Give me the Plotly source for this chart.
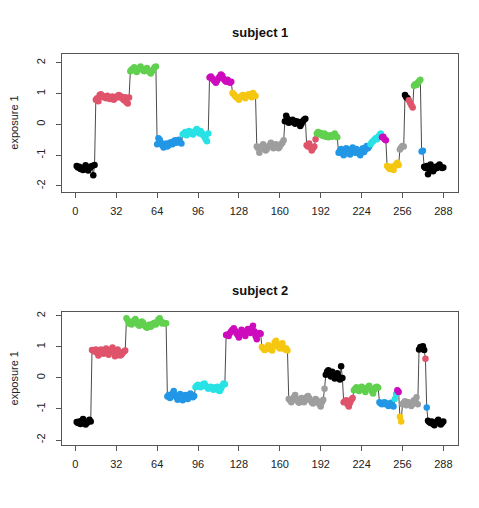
import plotly.graph_objects as go

# R default palette
palette = {
    "black": "#000000", "red": "#DF536B", "green": "#61D04F", "blue": "#2297E6",
    "cyan": "#28E2E5", "magenta": "#CD0BBC", "yellow": "#F5C710", "gray": "#9E9E9E",
}

x_ticks = [0, 32, 64, 96, 128, 160, 192, 224, 256, 288]
y_ticks = [-2, -1, 0, 1, 2]
y_tick_labels = ["-2", "-1", "0", "1", "2"]

# ---------------- subject 1 ----------------
s1_seg_colors = ["black", "red", "green", "blue", "cyan", "magenta", "yellow", "gray",
                 "black", "red", "green", "blue", "cyan", "magenta", "yellow", "gray",
                 "black", "red", "green", "blue", "black"]
s1_seg_values = [
    [-1.35, -1.40, -1.38, -1.45, -1.42, -1.48, -1.40, -1.33, -1.45, -1.50, -1.42, -1.38, -1.35, -1.65, -1.32],
    [0.80, 0.85, 0.75, 0.95, 0.98, 0.92, 0.88, 0.90, 0.85, 0.93, 0.88, 0.82, 0.86, 0.90, 0.80, 0.85, 0.88,
     0.92, 0.95, 0.87, 0.90, 0.83, 0.78, 0.88, 0.72, 0.68, 0.87],
    [1.72, 1.78, 1.80, 1.85, 1.75, 1.70, 1.78, 1.82, 1.88, 1.80, 1.75, 1.72, 1.78, 1.83, 1.76, 1.70, 1.65,
     1.72, 1.78, 1.85, 1.88],
    [-0.65, -0.45, -0.50, -0.60, -0.68, -0.75, -0.70, -0.62, -0.72, -0.68, -0.60, -0.58, -0.65, -0.55, -0.52,
     -0.60, -0.55, -0.50, -0.58, -0.62],
    [-0.32, -0.30, -0.25, -0.35, -0.28, -0.22, -0.30, -0.27, -0.33, -0.25, -0.20, -0.15, -0.25, -0.30, -0.22,
     -0.28, -0.35, -0.40, -0.48, -0.55, -0.30],
    [1.52, 1.55, 1.50, 1.45, 1.40, 1.35, 1.42, 1.50, 1.55, 1.62, 1.58, 1.48, 1.42, 1.38, 1.45, 1.40, 1.35, 1.38],
    [1.02, 0.98, 0.92, 0.88, 0.85, 0.80, 0.88, 0.92, 0.95, 0.90, 0.85, 0.92, 0.96, 0.98, 0.92, 0.88, 1.02,
     0.95, 0.92],
    [-0.72, -0.78, -0.92, -0.80, -0.70, -0.65, -0.75, -0.85, -0.80, -0.72, -0.68, -0.60, -0.70, -0.78, -0.72,
     -0.65, -0.70, -0.78, -0.72, -0.65, -0.60, -0.52],
    [0.10, 0.28, 0.18, 0.05, 0.12, 0.08, 0.15, 0.10, 0.02, 0.10, 0.05, 0.08, -0.05, 0.02, 0.10, 0.15, 0.18],
    [-0.68, -0.72, -0.62, -0.75, -0.85, -0.78, -0.72, -0.48],
    [-0.30, -0.25, -0.32, -0.28, -0.35, -0.38, -0.30, -0.40, -0.35, -0.42, -0.38, -0.35, -0.40, -0.35, -0.30,
     -0.38, -0.42],
    [-0.92, -0.85, -0.80, -0.95, -1.00, -0.88, -0.78, -0.85, -0.95, -0.98, -0.82, -0.75, -0.88, -0.92, -0.80,
     -0.85, -0.95, -1.00, -0.85, -0.78, -0.90, -0.82, -0.70, -0.78, -0.72],
    [-0.65, -0.58, -0.55, -0.50, -0.45, -0.48, -0.40, -0.35, -0.30],
    [-0.42, -0.40, -0.48, -0.52],
    [-1.35, -1.40, -1.45, -1.38, -1.42, -1.48, -1.35, -1.30, -1.25, -1.32],
    [-0.82, -0.75, -0.70, -0.72],
    [0.95, 0.88, 0.85],
    [0.78, 0.70, 0.62, 0.55],
    [1.25, 1.30, 1.28, 1.35, 1.40, 1.45],
    [-0.88, -0.86],
    [-1.38, -1.42, -1.35, -1.62, -1.45, -1.30, -1.40, -1.52, -1.45, -1.38, -1.42, -1.35, -1.30, -1.38,
     -1.42, -1.40],
]

# ---------------- subject 2 ----------------
s2_seg_colors = ["black", "red", "green", "blue", "cyan", "magenta", "yellow", "gray",
                 "black", "red", "green", "blue", "cyan", "magenta", "yellow", "gray",
                 "black", "red", "blue", "black"]
s2_seg_values = [
    [-1.42, -1.45, -1.40, -1.48, -1.38, -1.32, -1.42, -1.50, -1.45, -1.40, -1.35, -1.40],
    [0.90, 0.88, 0.85, 0.92, 0.80, 0.72, 0.88, 0.92, 0.85, 0.78, 0.90, 0.95, 0.85, 0.75, 0.82, 0.90, 0.98,
     0.88, 0.70, 0.78, 0.92, 0.85, 0.72, 0.75, 0.80, 0.85, 0.88],
    [1.92, 1.85, 1.75, 1.80, 1.72, 1.78, 1.85, 1.90, 1.80, 1.72, 1.68, 1.75, 1.82, 1.78, 1.70, 1.65, 1.62,
     1.68, 1.72, 1.65, 1.70, 1.75, 1.78, 1.72, 1.80, 1.88, 1.92, 1.82, 1.75, 1.78, 1.75, 1.76],
    [-0.60, -0.55, -0.65, -0.58, -0.50, -0.42, -0.55, -0.62, -0.70, -0.58, -0.52, -0.65, -0.72, -0.60, -0.55,
     -0.62, -0.68, -0.58, -0.50, -0.55, -0.62, -0.58],
    [-0.30, -0.25, -0.22, -0.28, -0.30, -0.25, -0.20, -0.18, -0.25, -0.30, -0.35, -0.32, -0.28, -0.30, -0.38,
     -0.35, -0.30, -0.28, -0.40, -0.42, -0.35, -0.25, -0.18, -0.20],
    [1.38, 1.40, 1.35, 1.45, 1.50, 1.55, 1.60, 1.52, 1.45, 1.38, 1.30, 1.45, 1.55, 1.50, 1.42, 1.35, 1.48,
     1.58, 1.52, 1.45, 1.60, 1.68, 1.50, 1.35, 1.25, 1.40, 1.45, 1.42],
    [1.00, 0.95, 0.90, 0.92, 0.98, 1.05, 1.00, 0.92, 0.88, 1.02, 1.15, 1.20, 1.10, 1.00, 0.95, 1.05, 1.12,
     0.98, 0.92, 0.95, 0.88],
    [-0.68, -0.72, -0.78, -0.70, -0.62, -0.55, -0.68, -0.75, -0.80, -0.72, -0.65, -0.72, -0.78, -0.70, -0.62,
     -0.58, -0.65, -0.72, -0.78, -0.82, -0.75, -0.68, -0.72, -0.78, -0.85, -0.92, -0.78, -0.70, -0.35],
    [0.10, 0.20, 0.25, 0.15, 0.05, 0.20, 0.12, -0.02, 0.05, 0.15, 0.05, -0.05, 0.38, 0.00],
    [-0.78, -0.75, -0.72, -0.85, -0.92, -0.80, -0.70, -0.65],
    [-0.40, -0.35, -0.30, -0.38, -0.42, -0.35, -0.28, -0.32, -0.38, -0.45, -0.35, -0.30, -0.25, -0.35, -0.42,
     -0.50, -0.38, -0.30, -0.28, -0.32],
    [-0.78, -0.82, -0.85, -0.80, -0.78, -0.85, -0.82, -0.90, -0.85, -0.80, -0.88, -0.92],
    [-0.68, -0.52],
    [-0.40, -0.45],
    [-1.25, -1.40],
    [-0.85, -0.80, -0.75, -0.88, -0.82, -0.78, -0.85, -0.90, -0.82, -0.72, -0.78, -0.62, -0.85],
    [0.92, 1.00, 0.95, 1.02, 0.90],
    [0.62],
    [-0.95],
    [-1.38, -1.42, -1.45, -1.40, -1.48, -1.52, -1.45, -1.40, -1.35, -1.42, -1.50, -1.45, -1.40],
]

subjects = [("subject 1", s1_seg_colors, s1_seg_values),
            ("subject 2", s2_seg_colors, s2_seg_values)]

FONT = "Liberation Sans, Arial, Helvetica, sans-serif"
W, H = 479, 508
# panel pixel boxes (left, right, top, bottom)
boxes = [(62, 458, 53.5, 191.5), (62, 458, 311.5, 445)]
y_ranges = [[-2.18, 2.30], [-2.16, 2.14]]
x_range = [-10.48, 299.48]

fig = go.Figure()
annotations = []
for i, (title, seg_colors, seg_values) in enumerate(subjects):
    ys, cols = [], []
    for c, vals in zip(seg_colors, seg_values):
        ys.extend(vals)
        cols.extend([palette[c]] * len(vals))
    xs = list(range(1, len(ys) + 1))
    ax = "" if i == 0 else str(i + 1)
    fig.add_trace(go.Scatter(
        x=xs, y=ys, mode="lines+markers", xaxis="x" + ax, yaxis="y" + ax,
        line=dict(color="#4a4a4a", width=1),
        marker=dict(color=cols, size=6.5, line=dict(width=0)),
        showlegend=False, hoverinfo="skip",
    ))
    l, r, t, b = boxes[i]
    common = dict(showgrid=False, zeroline=False, showline=True, mirror=True,
                  linecolor="#555555", linewidth=1, ticks="outside", ticklen=5,
                  tickcolor="#555555", tickwidth=1,
                  tickfont=dict(family=FONT, size=11, color="#222222"))
    fig.update_layout(**{
        "xaxis" + ax: dict(domain=[l / W, r / W], range=x_range, tickvals=x_ticks,
                           anchor="y" + ax, ticklabelstandoff=4, **common),
        "yaxis" + ax: dict(domain=[1 - b / H, 1 - t / H], range=y_ranges[i], tickvals=y_ticks,
                           ticktext=y_tick_labels, tickangle=-90, anchor="x" + ax,
                           ticklabelstandoff=7,
                           title=dict(text="exposure 1", font=dict(family=FONT, size=11, color="#222222"),
                                      standoff=13),
                           **common),
    })
    annotations.append(dict(text="<b>%s</b>" % title, x=(l + r) / 2 / W, xref="paper",
                            y=1 - (t - 21) / H, yref="paper", showarrow=False,
                            xanchor="center", yanchor="middle",
                            font=dict(family=FONT, size=13, color="#111111")))

fig.update_layout(width=W, height=H, margin=dict(l=0, r=0, t=0, b=0),
                  paper_bgcolor="white", plot_bgcolor="white",
                  annotations=annotations)
fig.write_html("out.html")
